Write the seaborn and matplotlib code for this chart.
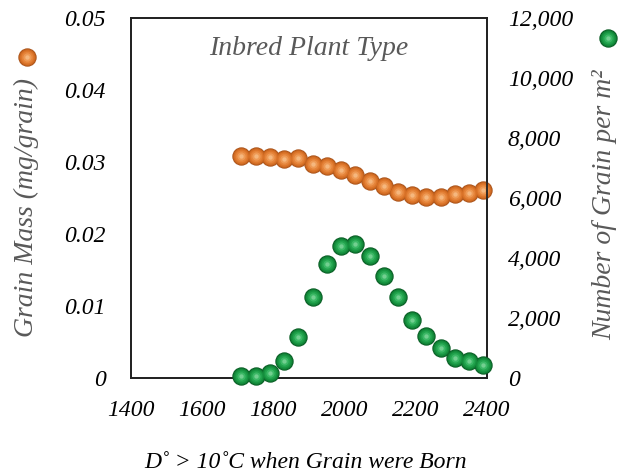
import matplotlib
matplotlib.use("Agg")
import matplotlib.pyplot as plt
import seaborn as sns
import pandas as pd

# ---- data ----
degree_days = [1710, 1750, 1790, 1830, 1870, 1910, 1950, 1990, 2030,
               2070, 2110, 2150, 2190, 2230, 2270, 2310, 2350, 2390]
grain_mass = [0.0309, 0.0309, 0.0307, 0.0304, 0.0305, 0.0297, 0.0295, 0.0289, 0.0282,
              0.0273, 0.0266, 0.0259, 0.0254, 0.0251, 0.0252, 0.0256, 0.0257, 0.0261]
grain_number = [67, 67, 156, 567, 1378, 2689, 3789, 4400, 4456,
                4078, 3400, 2689, 1933, 1400, 1011, 678, 567, 433]
left_ticks = [0, 0.01, 0.02, 0.03, 0.04, 0.05]
left_labels = ["0", "0.01", "0.02", "0.03", "0.04", "0.05"]
right_ticks = [0, 2000, 4000, 6000, 8000, 10000, 12000]
right_labels = ["0", "2,000", "4,000", "6,000", "8,000", "10,000", "12,000"]
x_ticks = [1400, 1600, 1800, 2000, 2200, 2400]

df = pd.DataFrame({"dd": degree_days, "mass": grain_mass, "num": grain_number})

sns.set_theme(style="white")
plt.rcParams["font.family"] = ["Liberation Serif", "DejaVu Serif"]

fig = plt.figure(figsize=(6.22, 4.73), dpi=100)
ax = fig.add_axes([131 / 622, 1 - 378 / 473, 356 / 622, 360 / 473])
ax2 = ax.twinx()

orange_layers = [("#a9541c", 175), ("#c8651f", 145), ("#db7429", 110),
                 ("#e5843a", 70), ("#ee9a55", 35), ("#f5b77e", 10)]
green_layers = [("#0a5c24", 175), ("#0f7a33", 145), ("#16923f", 110),
                ("#22a34d", 70), ("#3cb866", 35), ("#72cf90", 10)]

for col, s in orange_layers:
    sns.scatterplot(data=df, x="dd", y="mass", ax=ax, color=col, s=s,
                    linewidth=0, clip_on=False, legend=False, zorder=3)
for col, s in green_layers:
    sns.scatterplot(data=df, x="dd", y="num", ax=ax2, color=col, s=s,
                    linewidth=0, clip_on=False, legend=False, zorder=3)

ax.set_xlim(1400, 2400)
ax.set_ylim(0, 0.05)
ax2.set_ylim(0, 12000)

ax.set_xticks(x_ticks)
ax.set_xticklabels([str(t) for t in x_ticks])
ax.set_yticks(left_ticks)
ax.set_yticklabels(left_labels)
ax2.set_yticks(right_ticks)
ax2.set_yticklabels(right_labels)

ax.tick_params(axis="x", length=0, pad=16)
ax.tick_params(axis="y", length=0, pad=18)
ax2.tick_params(axis="y", length=0, pad=15)

for lbl in ax.get_xticklabels() + ax.get_yticklabels() + ax2.get_yticklabels():
    lbl.set_fontstyle("italic")
    lbl.set_fontsize(17)
    lbl.set_color("black")

ax.set_xlabel("")
ax.set_ylabel("")
ax2.set_ylabel("")
ax.grid(False)
ax2.grid(False)

for a in (ax, ax2):
    for sp in a.spines.values():
        sp.set_color("#222222")
        sp.set_linewidth(1.3)

gray = "#595959"
fig.text(26 / 622, 1 - 207 / 473, "Grain Mass (mg/grain)", rotation=90,
         ha="center", va="center", fontsize=20, style="italic", color=gray)
fig.text(605 / 622, 1 - 205 / 473, "Number of Grain per m²", rotation=90,
         ha="center", va="center", fontsize=20, style="italic", color=gray)
ax.text(0.5, 0.915, "Inbred Plant Type", transform=ax.transAxes,
        ha="center", va="center", fontsize=20, style="italic", color=gray)
fig.text(306 / 622, 1 - 462 / 473, "D˚ > 10˚C when Grain were Born",
         ha="center", va="center", fontsize=17, style="italic", color="black")

# legend markers
for col, s in orange_layers:
    fig.add_artist(plt.Line2D([27 / 622], [1 - 57 / 473], marker="o", color=col,
                              markersize=s ** 0.5, markeredgewidth=0,
                              transform=fig.transFigure, linestyle="none"))
for col, s in green_layers:
    fig.add_artist(plt.Line2D([608 / 622], [1 - 38 / 473], marker="o", color=col,
                              markersize=s ** 0.5, markeredgewidth=0,
                              transform=fig.transFigure, linestyle="none"))

fig.savefig("out.png", dpi=100)
